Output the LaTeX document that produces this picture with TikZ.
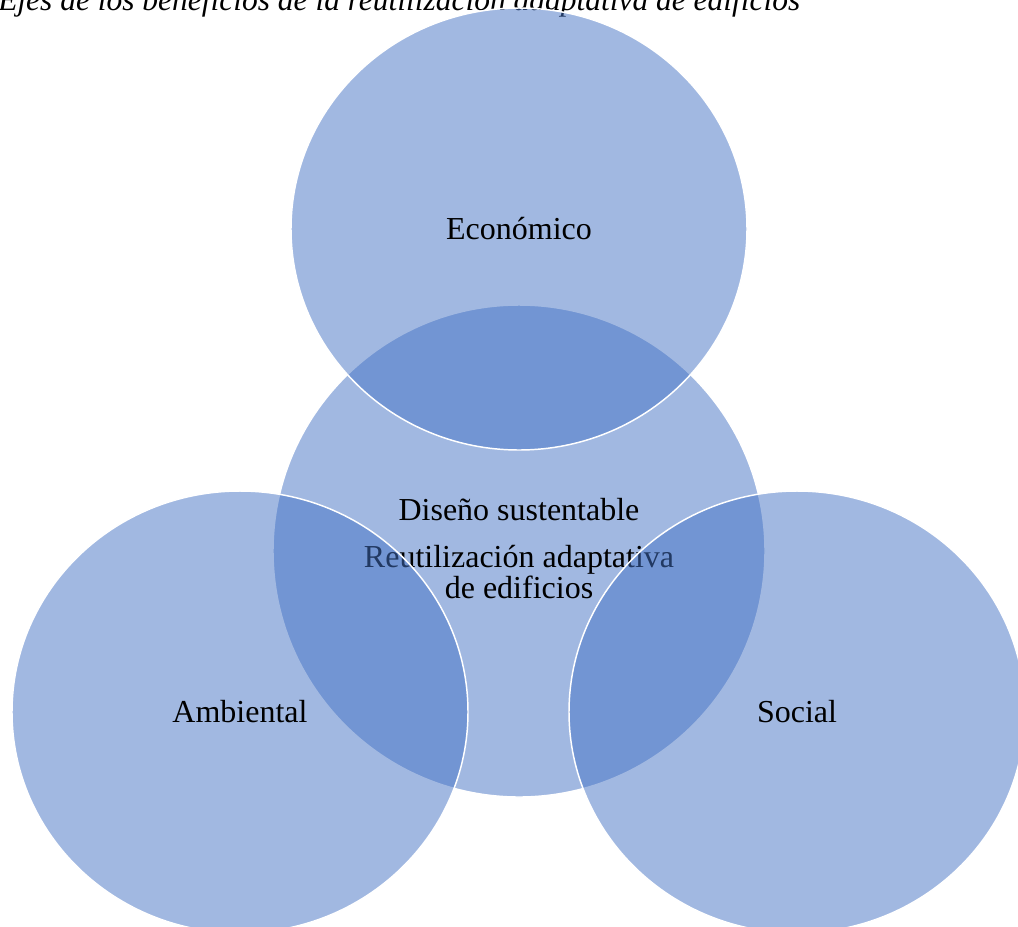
\documentclass[tikz,border=0pt]{standalone}
\usepackage{fontspec}
\setmainfont{Liberation Serif}
\usetikzlibrary{shapes}

\begin{document}
\begin{tikzpicture}[x=0.75pt, y=-0.75pt,
  ring/.style={ellipse, inner sep=0pt, fill={rgb,255:red,68;green,114;blue,196}, fill opacity=.5, text opacity=1, draw=white, line width=1.1pt, font=\fontsize{24}{23.25}\selectfont},
  side/.style={ring, minimum width=342pt, minimum height=331.5pt},
  words/.style={inner sep=0pt, font=\fontsize{24}{23.25}\selectfont}]

\useasboundingbox (0,0) rectangle (1018,926);
\clip (0,0) rectangle (1018,926);

\node[words, anchor=base west, font=\fontsize{23.6}{23.25}\selectfont] (title) at (-2,10) {\itshape Ejes de los beneficios de la reutilización adaptativa de edificios};

% centre first, so the three others lie over it
\node[ring, minimum width=369pt, minimum height=369pt] (hub) at (519,551) {};
\node[words, anchor=base] (dis) at (519,520) {Diseño sustentable};
\node[words, anchor=base] (reu) at (519,567) {Reutilización adaptativa};
\node[words, anchor=base] (edi) at (519,598) {de edificios};

\node[side] (eco) at (519,229) {Económico};
\node[side] (amb) at (240,712) {Ambiental};
\node[side] (soc) at (797,712) {Social};

\end{tikzpicture}
\end{document}
